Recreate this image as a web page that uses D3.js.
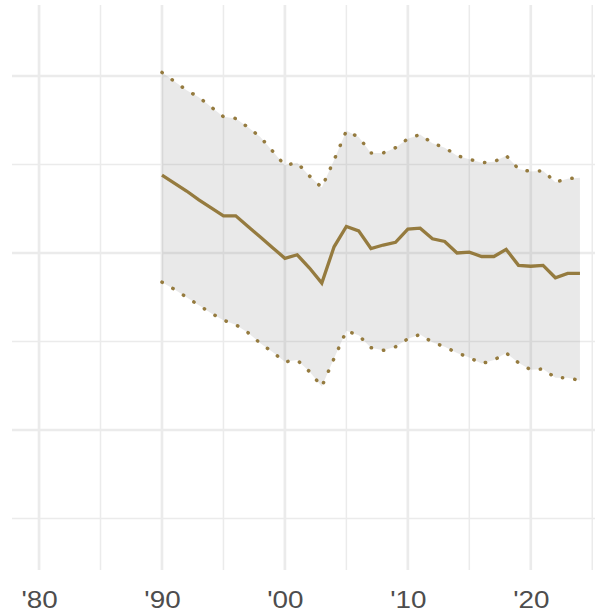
<!DOCTYPE html>
<html>
<head>
<meta charset="utf-8">
<script src="https://cdn.jsdelivr.net/npm/d3@7"></script>
<style>
  html, body { margin: 0; padding: 0; background: #fff; }
  svg { display: block; }
</style>
</head>
<body>
<svg id="chart" width="595" height="615"></svg>
<script>
const years = d3.range(1990, 2025);
const mid = [24.4, 23.95, 23.5, 23.0, 22.55, 22.1, 22.1, 21.5, 20.9, 20.3,
             19.7, 19.9, 19.15, 18.3, 20.35, 21.5, 21.25, 20.25, 20.45, 20.6,
             21.35, 21.4, 20.8, 20.65, 20.0, 20.05, 19.8, 19.8, 20.2, 19.3,
             19.25, 19.3, 18.6, 18.85, 18.85];
const upper = [30.2, 29.7, 29.2, 28.8, 28.25, 27.7, 27.6, 27.1, 26.55, 25.75,
               24.95, 25.1, 24.35, 23.7, 25.25, 26.9, 26.55, 25.65, 25.65, 25.95,
               26.45, 26.7, 26.2, 25.95, 25.5, 25.3, 25.1, 25.15, 25.5, 24.75,
               24.6, 24.65, 24.0, 24.2, 24.25];
const lower = [18.35, 17.95, 17.5, 17.05, 16.6, 16.2, 15.95, 15.5, 14.9, 14.4,
               13.85, 13.95, 13.3, 12.45, 14.05, 15.6, 15.35, 14.65, 14.5, 14.7,
               15.15, 15.4, 14.95, 14.7, 14.35, 14.1, 13.75, 13.95, 14.35, 13.8,
               13.4, 13.45, 12.95, 12.95, 12.8];
const xMajor = [1980, 1990, 2000, 2010, 2020];
const xMinor = [1985, 1995, 2005, 2015, 2025];
const xLabels = ["'80", "'90", "'00", "'10", "'20"];
const yMajor = [10, 20, 30];
const yMinor = [5, 15, 25];

const data = years.map((yr, i) => ({ year: yr, mid: mid[i], lo: lower[i], hi: upper[i] }));

const svg = d3.select("#chart");
const panel = { left: 12, right: 607, top: 5, bottom: 570 };

const x = d3.scaleLinear().domain([1977.8, 2026.2]).range([panel.left, panel.right]);
const y = d3.scaleLinear().domain([2.09, 34.01]).range([panel.bottom, panel.top]);

const grid = svg.append("g");
grid.selectAll(".hmin").data(yMinor).join("line")
  .attr("x1", panel.left).attr("x2", panel.right)
  .attr("y1", d => y(d)).attr("y2", d => y(d))
  .attr("stroke", "#ebebeb").attr("stroke-width", 1.5);
grid.selectAll(".vmin").data(xMinor).join("line")
  .attr("y1", panel.top).attr("y2", panel.bottom)
  .attr("x1", d => x(d)).attr("x2", d => x(d))
  .attr("stroke", "#ebebeb").attr("stroke-width", 1.5);
grid.selectAll(".hmaj").data(yMajor).join("line")
  .attr("x1", panel.left).attr("x2", panel.right)
  .attr("y1", d => y(d)).attr("y2", d => y(d))
  .attr("stroke", "#ebebeb").attr("stroke-width", 2.7);
grid.selectAll(".vmaj").data(xMajor).join("line")
  .attr("y1", panel.top).attr("y2", panel.bottom)
  .attr("x1", d => x(d)).attr("x2", d => x(d))
  .attr("stroke", "#ebebeb").attr("stroke-width", 2.7);

const area = d3.area().x(d => x(d.year)).y0(d => y(d.lo)).y1(d => y(d.hi));
svg.append("path").datum(data).attr("d", area)
  .attr("fill", "#7f7f7f").attr("fill-opacity", 0.17);

const col = "#957b3f";
const lineOf = key => d3.line().x(d => x(d.year)).y(d => y(d[key]));

svg.append("path").datum(data).attr("d", lineOf("hi"))
  .attr("fill", "none").attr("stroke", col).attr("stroke-width", 3.5)
  .attr("stroke-linecap", "round").attr("stroke-dasharray", "0.3 12.2");
svg.append("path").datum(data).attr("d", lineOf("lo"))
  .attr("fill", "none").attr("stroke", col).attr("stroke-width", 3.5)
  .attr("stroke-linecap", "round").attr("stroke-dasharray", "0.3 12.2");
svg.append("path").datum(data).attr("d", lineOf("mid"))
  .attr("fill", "none").attr("stroke", col).attr("stroke-width", 3.3);

const xAxis = d3.axisBottom(x).tickValues(xMajor).tickFormat((d, i) => xLabels[i]).tickSize(0).tickPadding(0);
const ax = svg.append("g").attr("transform", `translate(0, ${panel.bottom})`).call(xAxis);
ax.select(".domain").remove();
ax.selectAll("text")
  .attr("y", null).attr("dy", null)
  .attr("transform", "translate(0, 38) scale(1.16, 1)")
  .attr("text-anchor", "middle")
  .attr("fill", "#4d4d4d")
  .style("font-family", "'Liberation Sans', Arial, sans-serif")
  .style("font-size", "24px");
</script>
</body>
</html>
